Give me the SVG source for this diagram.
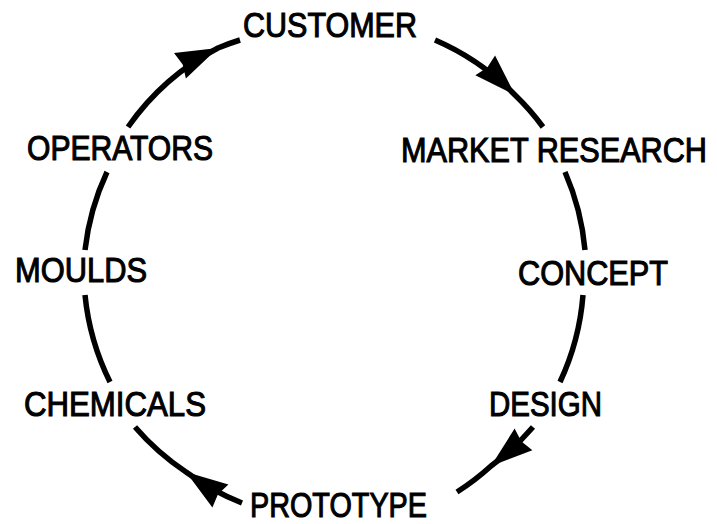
<svg xmlns="http://www.w3.org/2000/svg" width="717" height="524" viewBox="0 0 717 524">
  <style>
    .lbl { font-family: "Liberation Sans", Arial, sans-serif; font-size: 35px; fill: #000; stroke: #000; stroke-width: 1.1px; }
    .arc { fill: none; stroke: #000; stroke-width: 5.5; stroke-linecap: butt; }
  </style>
  <defs>
    <marker id="ah" markerUnits="userSpaceOnUse" orient="auto" viewBox="-44 -16 46 32" markerWidth="46" markerHeight="32" refX="0" refY="0">
      <path d="M0,0 L-42,-14 L-39,0 L-42,14 Z" fill="#000"/>
    </marker>
  </defs>
  <rect width="717" height="524" fill="#fff"/>
  <g id="connectors">
    <path class="arc" d="M435,40 A251,251 0 0 1 515,95 A251,251 0 0 1 543,127" marker-mid="url(#ah)"/>
    <path class="arc" d="M565,172 A251,251 0 0 1 585,250"/>
    <path class="arc" d="M583,295 A251,251 0 0 1 560,382"/>
    <path class="arc" d="M533,427 A251,251 0 0 1 491,466 A251,251 0 0 1 457,492" marker-mid="url(#ah)"/>
    <path class="arc" d="M242,503 A251,251 0 0 1 186,472 A251,251 0 0 1 135,427" marker-mid="url(#ah)"/>
    <path class="arc" d="M110,382 A251,251 0 0 1 85,295"/>
    <path class="arc" d="M85,250 A251,251 0 0 1 107,172"/>
    <path class="arc" d="M128,127 A251,251 0 0 1 218,48 A251,251 0 0 1 240,40" marker-mid="url(#ah)"/>
  </g>
  <g id="customer"><text class="lbl" x="243" y="37" textLength="174" lengthAdjust="spacingAndGlyphs">CUSTOMER</text></g>
  <g id="market-research"><text class="lbl" x="401" y="162" textLength="306" lengthAdjust="spacingAndGlyphs">MARKET RESEARCH</text></g>
  <g id="concept"><text class="lbl" x="518" y="285" textLength="150" lengthAdjust="spacingAndGlyphs">CONCEPT</text></g>
  <g id="design"><text class="lbl" x="489" y="416" textLength="113" lengthAdjust="spacingAndGlyphs">DESIGN</text></g>
  <g id="prototype"><text class="lbl" x="250" y="517" textLength="177" lengthAdjust="spacingAndGlyphs">PROTOTYPE</text></g>
  <g id="chemicals"><text class="lbl" x="24" y="416" textLength="182" lengthAdjust="spacingAndGlyphs">CHEMICALS</text></g>
  <g id="moulds"><text class="lbl" x="15" y="282" textLength="132" lengthAdjust="spacingAndGlyphs">MOULDS</text></g>
  <g id="operators"><text class="lbl" x="27" y="160" textLength="186" lengthAdjust="spacingAndGlyphs">OPERATORS</text></g>
</svg>
